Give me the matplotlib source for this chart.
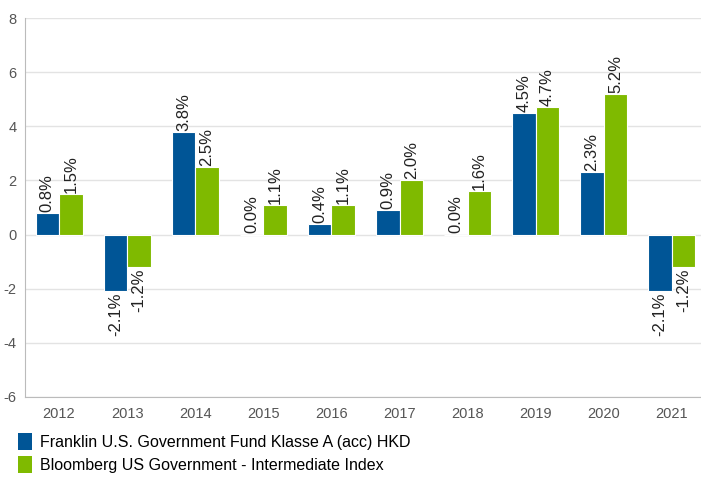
import numpy as np
import matplotlib.pyplot as plt
from matplotlib.patches import Patch

plt.rcParams['font.family'] = ['Liberation Sans', 'DejaVu Sans']
plt.rcParams['axes.unicode_minus'] = False

years = ["2012", "2013", "2014", "2015", "2016", "2017", "2018", "2019", "2020", "2021"]
fund = [0.8, -2.1, 3.8, 0.0, 0.4, 0.9, 0.0, 4.5, 2.3, -2.1]
index = [1.5, -1.2, 2.5, 1.1, 1.1, 2.0, 1.6, 4.7, 5.2, -1.2]
series_names = ["Franklin U.S. Government Fund Klasse A (acc) HKD",
                "Bloomberg US Government - Intermediate Index"]
colors = ["#005596", "#7fba00"]

fig = plt.figure(figsize=(7.01, 4.84), dpi=100)
ax = fig.add_axes([25 / 701, 1 - 397 / 484, 681 / 701, 379 / 484])

x = np.arange(len(years))
w = 0.345
for vals, off, c in [(fund, -w / 2, colors[0]), (index, w / 2, colors[1])]:
    ax.bar(x + off, vals, width=w, color=c, edgecolor="white", linewidth=0.8, zorder=3)
    for xi, v in zip(x + off, vals):
        if v >= 0:
            ax.text(xi, v + 0.04, f"{v:.1f}%", rotation=90, ha="center", va="bottom",
                    fontsize=12, color="#222222", zorder=4)
        else:
            ax.text(xi, v - 0.04, f"{v:.1f}%", rotation=90, ha="center", va="top",
                    fontsize=12, color="#222222", zorder=4)

ax.set_xlim(-0.5, 9.5)
ax.set_ylim(-6, 8)
ax.set_yticks(range(-6, 9, 2))
ax.set_xticks(x)
ax.set_xticklabels(years)
ax.grid(axis="y", color="#e3e3e3", linewidth=1, zorder=0)
ax.tick_params(axis="both", length=0, labelsize=10.5, colors="#555555")
ax.tick_params(axis="x", pad=7)
ax.tick_params(axis="y", pad=6)
for s in ["top", "right"]:
    ax.spines[s].set_visible(False)
for s in ["left", "bottom"]:
    ax.spines[s].set_color("#bbbbbb")

handles = [Patch(facecolor=c, edgecolor="none") for c in colors]
fig.legend(handles, series_names, loc="upper left", bbox_to_anchor=(18 / 701, 1 - 433 / 484),
           frameon=False, fontsize=11.5, handlelength=0.9, handleheight=1.3,
           handletextpad=0.45, labelspacing=0.35, borderaxespad=0, borderpad=0)

fig.savefig("out.png", dpi=100)
